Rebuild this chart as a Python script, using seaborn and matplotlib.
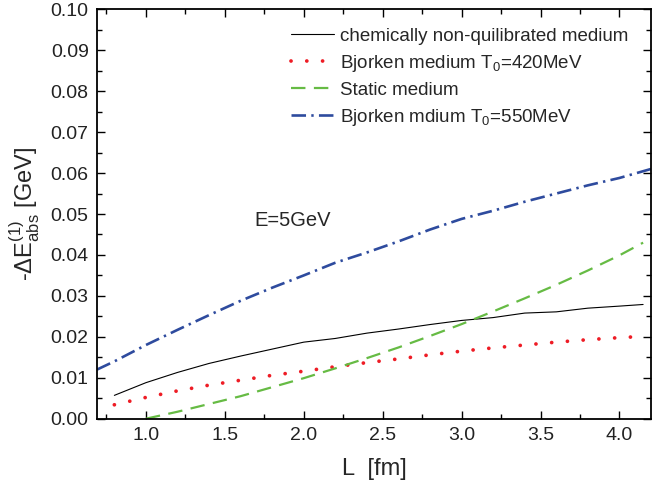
import matplotlib
matplotlib.use("Agg")
import matplotlib.pyplot as plt
from matplotlib.ticker import MultipleLocator, FormatStrFormatter
import seaborn as sns
import pandas as pd

# ---- data ----
L_black = [0.8, 1.0, 1.2, 1.4, 1.6, 1.8, 2.0, 2.2, 2.4, 2.6, 2.8, 3.0, 3.2, 3.4, 3.6, 3.8, 4.0, 4.15]
E_black = [0.0057, 0.0088, 0.0113, 0.0135, 0.0153, 0.0170, 0.0187, 0.0196, 0.0209, 0.0219,
           0.0230, 0.0240, 0.0247, 0.0258, 0.0261, 0.0270, 0.0275, 0.0279]

L_red = [0.8, 1.0, 1.2, 1.4, 1.6, 1.8, 2.0, 2.2, 2.4, 2.6, 2.8, 3.0, 3.2, 3.4, 3.6, 3.8, 4.0, 4.15]
E_red = [0.0034, 0.0052, 0.0068, 0.0082, 0.0094, 0.0106, 0.0116, 0.0127, 0.0137, 0.0146,
         0.0156, 0.0165, 0.0173, 0.0180, 0.0187, 0.0193, 0.0198, 0.0201]

L_green = [1.0, 1.2, 1.4, 1.6, 1.8, 2.0, 2.2, 2.4, 2.6, 2.8, 3.0, 3.2, 3.4, 3.6, 3.8, 4.0, 4.15]
E_green = [0.0, 0.0017, 0.0036, 0.0055, 0.0077, 0.0099, 0.0123, 0.0148, 0.0174, 0.0202,
           0.0231, 0.0262, 0.0294, 0.0327, 0.0362, 0.0399, 0.0430]

L_blue = [0.69, 0.8, 1.0, 1.2, 1.4, 1.6, 1.8, 2.0, 2.2, 2.4, 2.6, 2.8, 3.0, 3.2, 3.4, 3.6, 3.8, 4.0, 4.2]
E_blue = [0.0120, 0.0140, 0.0180, 0.0217, 0.0253, 0.0288, 0.0320, 0.0350, 0.0381, 0.0406,
          0.0433, 0.0462, 0.0488, 0.0508, 0.0530, 0.0550, 0.0570, 0.0588, 0.0610]

labels = ["chemically non-quilibrated medium",
          "Bjorken medium T$_0$=420MeV",
          "Static medium",
          "Bjorken mdium T$_0$=550MeV"]

sns.set_theme(style="ticks")
plt.rcParams["font.family"] = ["Liberation Sans", "DejaVu Sans"]
plt.rcParams["mathtext.fontset"] = "custom"
plt.rcParams["mathtext.rm"] = "Liberation Sans"
plt.rcParams["mathtext.it"] = "Liberation Sans"
plt.rcParams["mathtext.bf"] = "Liberation Sans:bold"
plt.rcParams["mathtext.default"] = "regular"

fig = plt.figure(figsize=(6.68, 4.9), dpi=100)
ax = fig.add_axes([97 / 668, 1 - 418.7 / 490, (651 - 97) / 668, (418.7 - 9.3) / 490])

sns.lineplot(x=L_black, y=E_black, ax=ax, color="black", lw=0.8, label=labels[0], sort=False)
sns.lineplot(x=L_red, y=E_red, ax=ax, color="#ee1c25", lw=2.7, label=labels[1], sort=False,
             linestyle=(0, (0.01, 4.2)), dash_capstyle="round")
sns.lineplot(x=L_green, y=E_green, ax=ax, color="#66bb44", lw=1.6, label=labels[2], sort=False,
             linestyle=(0, (6.5, 3.8)))
sns.lineplot(x=L_blue, y=E_blue, ax=ax, color="#2e4b9e", lw=1.9, label=labels[3], sort=False,
             linestyle=(0, (5.5, 2.0, 0.9, 2.0)))

ax.set_xlim(0.69, 4.2)
ax.set_ylim(0.0, 0.10)
ax.xaxis.set_major_locator(MultipleLocator(0.5))
ax.xaxis.set_minor_locator(MultipleLocator(0.25))
ax.yaxis.set_major_locator(MultipleLocator(0.01))
ax.yaxis.set_minor_locator(MultipleLocator(0.005))
ax.xaxis.set_major_formatter(FormatStrFormatter("%.1f"))
ax.yaxis.set_major_formatter(FormatStrFormatter("%.2f"))
ax.tick_params(which="both", direction="in", top=True, right=True, width=1.0, color="black")
ax.tick_params(which="major", length=6, labelsize=14, pad=6, labelcolor="#222222")
ax.tick_params(which="minor", length=3.5)
for s in ax.spines.values():
    s.set_linewidth(1.3)
    s.set_color("black")

ax.set_xlabel("L  [fm]", fontsize=17, labelpad=10)
ax.set_ylabel("-$\\Delta$E$^{(1)}_{abs}$ [GeV]", fontsize=17, labelpad=6)

ax.text(1.69, 0.0485, "E=5GeV", fontsize=14.5, va="center", ha="left")

ax.legend(loc="upper left", bbox_to_anchor=(0.350, 0.955), frameon=False, fontsize=13.5,
          handlelength=2.3, handletextpad=0.3, borderpad=0, borderaxespad=0, labelspacing=0.42)

fig.savefig("out.png", dpi=100)
